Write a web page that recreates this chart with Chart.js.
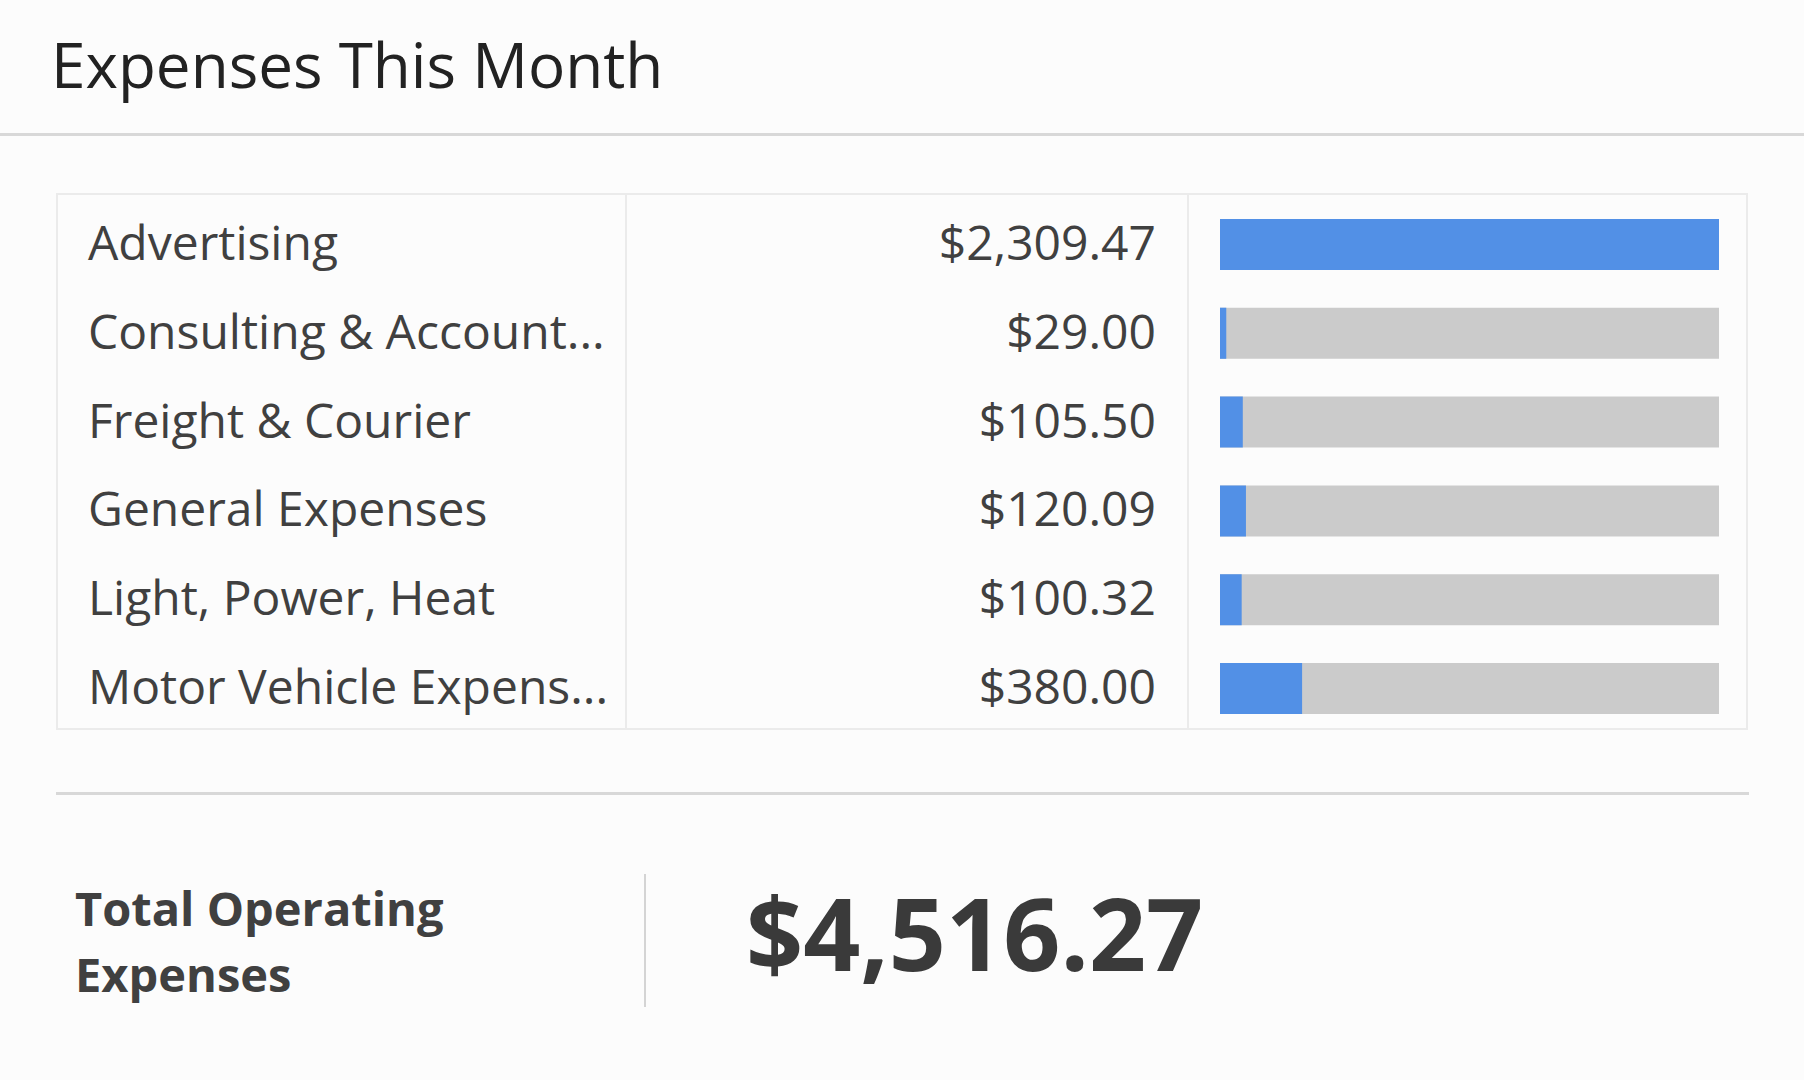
<!DOCTYPE html>
<html>
<head>
<meta charset="utf-8">
<script src="https://cdn.jsdelivr.net/npm/chart.js@4"></script>
<style>
  html, body { margin: 0; padding: 0; }
  body {
    width: 1804px; height: 1080px; position: relative; overflow: hidden;
    background: #fcfcfc; font-family: "Open Sans", "Noto Sans", sans-serif; color: #404040;
  }
  .title { position: absolute; left: 51px; top: 33px; font-size: 62px; line-height: 62px; color: #222; white-space: nowrap; }
  .header-line { position: absolute; left: 0; top: 133px; width: 1804px; height: 3px; background: #d8d8d8; }
  .table { position: absolute; left: 56px; top: 193px; width: 1688px; height: 533px; border: 2px solid #ebebeb; }
  .col-line { position: absolute; top: 195px; width: 2px; height: 533px; background: #ebebeb; }
  .row-label, .row-value { position: absolute; font-size: 48px; line-height: 64px; white-space: nowrap; }
  .row-label { left: 88px; }
  .row-value { right: 648px; text-align: right; }
  .chart-box { position: absolute; left: 1220px; top: 200px; width: 499px; height: 533px; }
  .sep-line { position: absolute; left: 56px; top: 792px; width: 1693px; height: 3px; background: #d8d8d8; }
  .total-label { position: absolute; left: 75px; top: 875px; font-size: 47px; line-height: 66px; font-weight: bold; color: #404040; }
  .total-divider { position: absolute; left: 644px; top: 874px; width: 2px; height: 133px; background: #d4d4d4; }
  .total-value { position: absolute; left: 746px; top: 882px; font-size: 100px; line-height: 100px; font-weight: bold; color: #3a3a3a; }
</style>
</head>
<body>
<div class="title">Expenses This Month</div>
<div class="header-line"></div>
<div class="table"></div>
<div class="col-line" style="left:625px"></div>
<div class="col-line" style="left:1187px"></div>
<div id="rows"></div>
<div class="chart-box"><canvas id="expenses"></canvas></div>
<div class="sep-line"></div>
<div class="total-label">Total Operating<br>Expenses</div>
<div class="total-divider"></div>
<div class="total-value" id="total"></div>

<script>
const categories = ['Advertising', 'Consulting & Account...', 'Freight & Courier', 'General Expenses', 'Light, Power, Heat', 'Motor Vehicle Expens...'];
const amounts = [2309.47, 29.00, 105.50, 120.09, 100.32, 380.00];
const totalExpenses = 4516.27;

const money = v => '$' + v.toLocaleString('en-US', { minimumFractionDigits: 2, maximumFractionDigits: 2 });
const maxAmount = Math.max(...amounts);

// label + value columns, one row per category (cap centre lined up with the bar)
const rowTop = 200, rowHeight = 533 / categories.length;
const rows = document.getElementById('rows');
categories.forEach((name, i) => {
    const center = rowTop + rowHeight * (i + 0.5);
    const top = Math.round(center - 33 - 0.031 * 48);
    rows.insertAdjacentHTML('beforeend',
        '<div class="row-label" style="top:' + top + 'px">' + name.replace('&', '&amp;') + '</div>' +
        '<div class="row-value" style="top:' + top + 'px">' + money(amounts[i]) + '</div>');
});
document.getElementById('total').textContent = money(totalExpenses);

new Chart(document.getElementById('expenses').getContext('2d'), {
    type: 'bar',
    data: {
        labels: categories,
        datasets: [{
            data: amounts,
            backgroundColor: '#5290e6',
            order: 0
        }, {
            data: categories.map(() => maxAmount),
            backgroundColor: '#cbcbcb',
            order: 1
        }]
    },
    options: {
        indexAxis: 'y',
        responsive: true,
        maintainAspectRatio: false,
        animation: false,
        grouped: false,
        categoryPercentage: 1,
        barPercentage: 0.575,
        layout: { padding: 0 },
        plugins: {
            legend: { display: false },
            tooltip: { enabled: false }
        },
        scales: {
            x: { display: false, min: 0, max: maxAmount },
            y: { display: false }
        }
    }
});
</script>
</body>
</html>
